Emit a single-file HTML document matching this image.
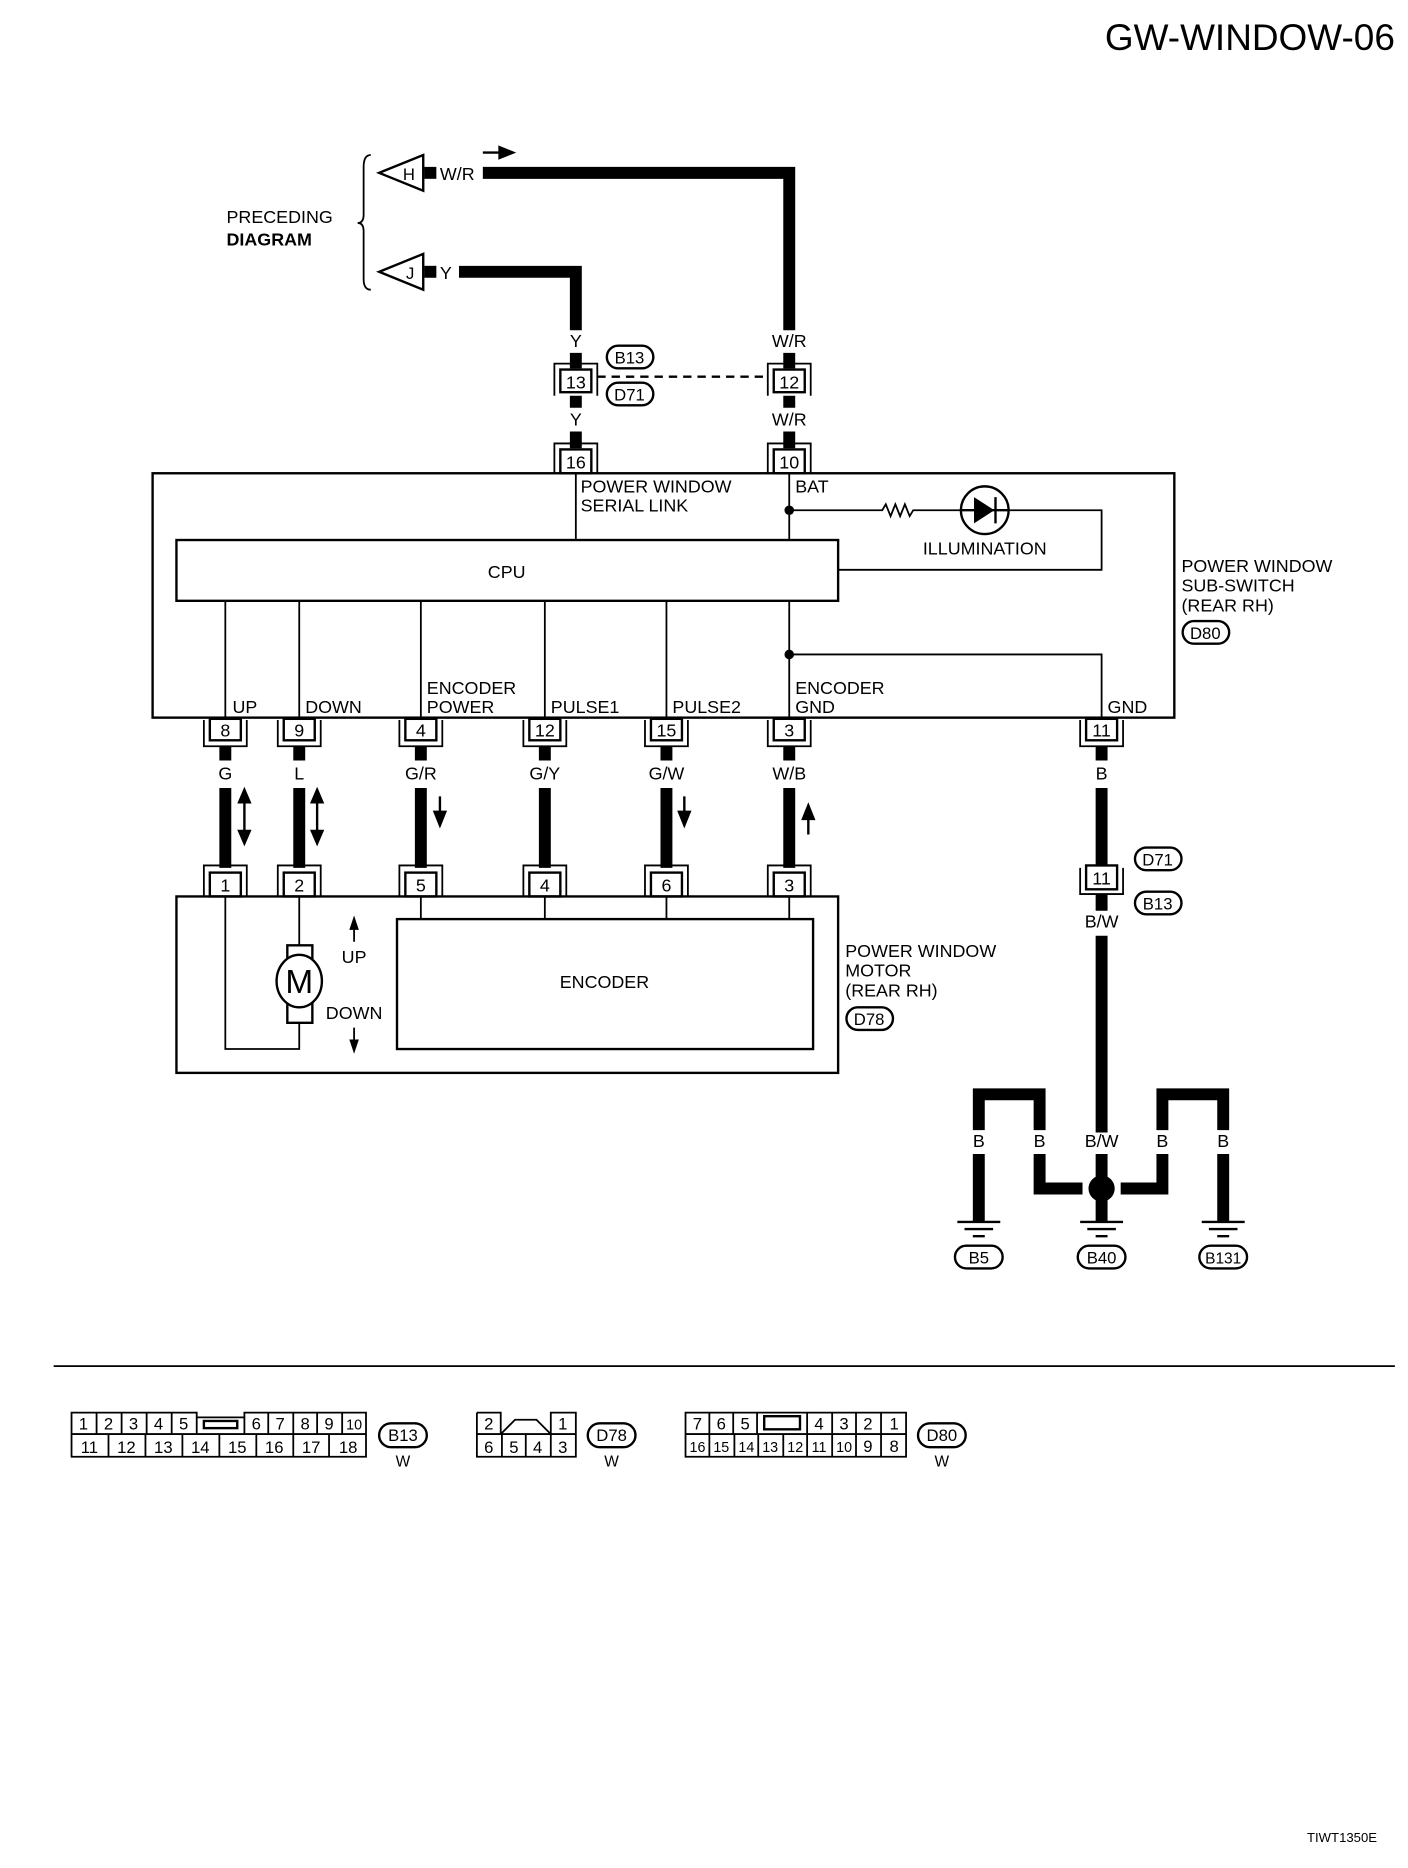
<!DOCTYPE html>
<html><head><meta charset="utf-8"><style>
html,body{margin:0;padding:0;background:#fff;}
svg{display:block;}
text{font-family:"Liberation Sans",sans-serif;fill:#000;}
</style></head><body>
<svg width="1408" height="1868" viewBox="0 0 1181 1567" preserveAspectRatio="none" xmlns="http://www.w3.org/2000/svg">
<g font-size="15">
<text x="1170" y="42" font-size="31" text-anchor="end">GW-WINDOW-06</text>

<!-- preceding diagram -->
<text x="190" y="187">PRECEDING</text>
<text x="190" y="206" font-weight="bold">DIAGRAM</text>
<path d="M311 130 Q305 130 305 140 V180 Q305 187 300 187 Q305 187 305 194 V234 Q305 243 311 243" fill="none" stroke="#000" stroke-width="1.5"/>
<polygon points="318,145 355,130 355,160" fill="#fff" stroke="#000" stroke-width="2"/>
<text x="343" y="151" text-anchor="middle" font-size="14">H</text>
<rect x="356" y="140" width="10" height="10"/>
<text x="369" y="151">W/R</text>
<polygon points="318,228 355,213 355,243" fill="#fff" stroke="#000" stroke-width="2"/>
<text x="344" y="234" text-anchor="middle" font-size="14">J</text>
<rect x="356" y="223" width="10" height="10"/>
<text x="369" y="234">Y</text>
<path d="M405 128 H420" stroke="#000" stroke-width="2"/>
<polygon points="418,122 433,128 418,134"/>
<path d="M405 145 H662 V277" fill="none" stroke="#000" stroke-width="10"/>
<path d="M385 228 H483 V277" fill="none" stroke="#000" stroke-width="10"/>

<text x="483" y="291" text-anchor="middle">Y</text>
<text x="662" y="291" text-anchor="middle">W/R</text>
<path d="M483 296 V309 M662 296 V309" stroke="#000" stroke-width="10"/>
<path d="M465 332 V305 H501 V332 M644 332 V305 H680 V332" fill="none" stroke="#000" stroke-width="1.5"/>
<rect x="470" y="310" width="26" height="19" fill="#fff" stroke="#000" stroke-width="2"/>
<rect x="649" y="310" width="26" height="19" fill="#fff" stroke="#000" stroke-width="2"/>
<text x="483" y="326" text-anchor="middle">13</text>
<text x="662" y="326" text-anchor="middle">12</text>
<path d="M501 316 H645" stroke="#000" stroke-width="2" stroke-dasharray="7,5"/>
<rect x="509" y="290" width="39" height="19" rx="9.5" fill="#fff" stroke="#000" stroke-width="2"/>
<text x="528" y="305" text-anchor="middle" font-size="14">B13</text>
<rect x="509" y="321" width="39" height="19" rx="9.5" fill="#fff" stroke="#000" stroke-width="2"/>
<text x="528" y="336" text-anchor="middle" font-size="14">D71</text>
<path d="M483 332 V342 M662 332 V342" stroke="#000" stroke-width="10"/>
<text x="483" y="357" text-anchor="middle">Y</text>
<text x="662" y="357" text-anchor="middle">W/R</text>
<path d="M483 362 V376 M662 362 V376" stroke="#000" stroke-width="10"/>
<path d="M465 397 V372 H501 V397 M644 397 V372 H680 V397" fill="none" stroke="#000" stroke-width="1.5"/>
<rect x="470" y="377" width="26" height="20" fill="#fff" stroke="#000" stroke-width="2"/>
<rect x="649" y="377" width="26" height="20" fill="#fff" stroke="#000" stroke-width="2"/>
<text x="483" y="393" text-anchor="middle">16</text>
<text x="662" y="393" text-anchor="middle">10</text>

<rect x="128" y="397" width="857" height="205" fill="none" stroke="#000" stroke-width="2"/>
<path d="M483 397 V453 M662 397 V453" stroke="#000" stroke-width="1.5"/>
<text x="487" y="413">POWER WINDOW</text>
<text x="487" y="429">SERIAL LINK</text>
<text x="667" y="413">BAT</text>
<circle cx="662" cy="428" r="4"/>
<path d="M662 428 H740 l3 -5 l4 10 l4 -10 l4 10 l4 -10 l4 10 l3 -5 H807 M845 428 H924 V478 H703" fill="none" stroke="#000" stroke-width="1.5"/>
<circle cx="826" cy="428" r="20" fill="#fff" stroke="#000" stroke-width="2"/>
<polygon points="817,417 817,439 834,428"/>
<path d="M835 417 V439 M806 428 H846" stroke="#000" stroke-width="2"/>
<text x="826" y="465" text-anchor="middle">ILLUMINATION</text>
<rect x="148" y="453" width="555" height="51" fill="#fff" stroke="#000" stroke-width="2"/>
<text x="425" y="485" text-anchor="middle">CPU</text>
<path d="M189 504 V602 M251 504 V602 M353 504 V602 M457 504 V602 M559 504 V602 M662 504 V602 M662 549 H924 V602" fill="none" stroke="#000" stroke-width="1.5"/>
<circle cx="662" cy="549" r="4"/>
<text x="195" y="598">UP</text>
<text x="256" y="598">DOWN</text>
<text x="358" y="582">ENCODER</text>
<text x="358" y="598">POWER</text>
<text x="462" y="598">PULSE1</text>
<text x="564" y="598">PULSE2</text>
<text x="667" y="582">ENCODER</text>
<text x="667" y="598">GND</text>
<text x="929" y="598">GND</text>
<text x="991" y="480">POWER WINDOW</text>
<text x="991" y="496">SUB-SWITCH</text>
<text x="991" y="513">(REAR RH)</text>
<rect x="992" y="521" width="39" height="19" rx="9.5" fill="#fff" stroke="#000" stroke-width="2"/>
<text x="1011" y="536" text-anchor="middle" font-size="14">D80</text>

<g fill="none" stroke="#000" stroke-width="1.5">
<path d="M171 604 V626 H207 V604 M233 604 V626 H269 V604 M335 604 V626 H371 V604 M439 604 V626 H475 V604 M541 604 V626 H577 V604 M644 604 V626 H680 V604 M906 604 V626 H942 V604"/>
</g>
<g fill="#fff" stroke="#000" stroke-width="2">
<rect x="176" y="603" width="26" height="18"/><rect x="238" y="603" width="26" height="18"/><rect x="340" y="603" width="26" height="18"/><rect x="444" y="603" width="26" height="18"/><rect x="546" y="603" width="26" height="18"/><rect x="649" y="603" width="26" height="18"/><rect x="911" y="603" width="26" height="18"/>
</g>
<g text-anchor="middle">
<text x="189" y="618">8</text><text x="251" y="618">9</text><text x="353" y="618">4</text><text x="457" y="618">12</text><text x="559" y="618">15</text><text x="662" y="618">3</text><text x="924" y="618">11</text>
<text x="189" y="654">G</text><text x="251" y="654">L</text><text x="353" y="654">G/R</text><text x="457" y="654">G/Y</text><text x="559" y="654">G/W</text><text x="662" y="654">W/B</text><text x="924" y="654">B</text>
</g>
<g stroke="#000" stroke-width="10">
<path d="M189 626 V638 M251 626 V638 M353 626 V638 M457 626 V638 M559 626 V638 M662 626 V638 M924 626 V638"/>
<path d="M189 661 V728 M251 661 V728 M353 661 V728 M457 661 V728 M559 661 V728 M662 661 V728 M924 661 V728"/>
</g>
<g stroke="#000" stroke-width="2">
<path d="M205 672 V698 M266 672 V698 M369 668 V684 M574 668 V684 M678 682 V700"/>
</g>
<polygon points="199,674 205,660 211,674"/><polygon points="199,696 205,710 211,696"/>
<polygon points="260,674 266,660 272,674"/><polygon points="260,696 266,710 272,696"/>
<polygon points="363,680 369,695 375,680"/><polygon points="568,680 574,695 580,680"/>
<polygon points="672,688 678,673 684,688"/>

<g fill="none" stroke="#000" stroke-width="1.5">
<path d="M171 752 V726 H207 V752 M233 752 V726 H269 V752 M335 752 V726 H371 V752 M439 752 V726 H475 V752 M541 752 V726 H577 V752 M644 752 V726 H680 V752"/>
</g>
<g fill="#fff" stroke="#000" stroke-width="2">
<rect x="176" y="732" width="26" height="20"/><rect x="238" y="732" width="26" height="20"/><rect x="340" y="732" width="26" height="20"/><rect x="444" y="732" width="26" height="20"/><rect x="546" y="732" width="26" height="20"/><rect x="649" y="732" width="26" height="20"/>
</g>
<g text-anchor="middle">
<text x="189" y="748">1</text><text x="251" y="748">2</text><text x="353" y="748">5</text><text x="457" y="748">4</text><text x="559" y="748">6</text><text x="662" y="748">3</text>
</g>
<rect x="148" y="752" width="555" height="148" fill="none" stroke="#000" stroke-width="2"/>
<path d="M189 752 V880 H251 V858 M251 752 V793 M353 752 V771 M457 752 V771 M559 752 V771 M662 752 V771" fill="none" stroke="#000" stroke-width="1.5"/>
<rect x="241" y="793" width="21" height="65" fill="#fff" stroke="#000" stroke-width="2"/>
<ellipse cx="251" cy="823" rx="19" ry="22" fill="#fff" stroke="#000" stroke-width="2"/>
<text x="251" y="833" text-anchor="middle" font-size="28">M</text>
<path d="M297 778 V790 M297 862 V874" stroke="#000" stroke-width="1.5"/>
<polygon points="293,780 297,768 301,780"/><polygon points="293,872 297,884 301,872"/>
<text x="297" y="808" text-anchor="middle">UP</text>
<text x="297" y="855" text-anchor="middle">DOWN</text>
<rect x="333" y="771" width="349" height="109" fill="none" stroke="#000" stroke-width="2"/>
<text x="507" y="829" text-anchor="middle">ENCODER</text>
<text x="709" y="803">POWER WINDOW</text>
<text x="709" y="819">MOTOR</text>
<text x="709" y="836">(REAR RH)</text>
<rect x="710" y="845" width="39" height="19" rx="9.5" fill="#fff" stroke="#000" stroke-width="2"/>
<text x="729" y="860" text-anchor="middle" font-size="14">D78</text>

<path d="M906 728 V750 H942 V728" fill="none" stroke="#000" stroke-width="1.5"/>
<rect x="911" y="726" width="26" height="20" fill="#fff" stroke="#000" stroke-width="2"/>
<text x="924" y="742" text-anchor="middle">11</text>
<rect x="952" y="711" width="39" height="19" rx="9.5" fill="#fff" stroke="#000" stroke-width="2"/>
<text x="971" y="726" text-anchor="middle" font-size="14">D71</text>
<rect x="952" y="748" width="39" height="19" rx="9.5" fill="#fff" stroke="#000" stroke-width="2"/>
<text x="971" y="763" text-anchor="middle" font-size="14">B13</text>
<path d="M924 750 V764 M924 785 V950" stroke="#000" stroke-width="10"/>
<text x="924" y="778" text-anchor="middle">B/W</text>

<g fill="none" stroke="#000" stroke-width="10">
<path d="M821 948 V918 H872 V948 M975 948 V918 H1026 V948"/>
<path d="M821 968 V1025 M1026 968 V1025 M924 968 V990 M924 1005 V1025"/>
<path d="M872 968 V997 H908 M940 997 H975 V968"/>
</g>
<circle cx="924" cy="997" r="11"/>
<g text-anchor="middle">
<text x="821" y="962">B</text><text x="872" y="962">B</text><text x="924" y="962">B/W</text><text x="975" y="962">B</text><text x="1026" y="962">B</text>
</g>
<g stroke="#000" stroke-width="2">
<path d="M803 1025 H839 M809 1031 H833 M816 1037 H826"/>
<path d="M906 1025 H942 M912 1031 H936 M919 1037 H929"/>
<path d="M1008 1025 H1044 M1014 1031 H1038 M1021 1037 H1031"/>
</g>
<rect x="801" y="1045" width="40" height="19" rx="9.5" fill="#fff" stroke="#000" stroke-width="2"/>
<text x="821" y="1060" text-anchor="middle" font-size="14">B5</text>
<rect x="904" y="1045" width="40" height="19" rx="9.5" fill="#fff" stroke="#000" stroke-width="2"/>
<text x="924" y="1060" text-anchor="middle" font-size="14">B40</text>
<rect x="1006" y="1045" width="40" height="19" rx="9.5" fill="#fff" stroke="#000" stroke-width="2"/>
<text x="1026" y="1060" text-anchor="middle" font-size="13">B131</text>

<path d="M45 1146 H1170" stroke="#000" stroke-width="1.5"/>

<g fill="none" stroke="#000" stroke-width="1.5">
<path d="M60 1185 H165 V1189 H205 V1185 H307 V1222 H60 Z M60 1203 H307"/>
<path d="M81 1185 V1203 M102 1185 V1203 M123 1185 V1203 M144 1185 V1203 M165 1189 V1203 M205 1189 V1203 M225 1185 V1203 M246 1185 V1203 M266 1185 V1203 M287 1185 V1203"/>
<path d="M91 1203 V1222 M122 1203 V1222 M153 1203 V1222 M184 1203 V1222 M215 1203 V1222 M246 1203 V1222 M276 1203 V1222"/>
<rect x="171" y="1192" width="28" height="6" stroke-width="2"/>
<path d="M400 1185 H420 V1203 M462 1203 V1185 H483 V1222 H400 V1185 M400 1203 H483 M420 1203 L432 1191 H450 L462 1203"/>
<path d="M421 1203 V1222 M441 1203 V1222 M462 1203 V1222"/>
<path d="M575 1185 H760 V1222 H575 Z M575 1203 H760"/>
<path d="M595 1185 V1203 M615 1185 V1203 M635 1185 V1203 M677 1185 V1203 M698 1185 V1203 M718 1185 V1203 M739 1185 V1203"/>
<path d="M595 1203 V1222 M616 1203 V1222 M636 1203 V1222 M657 1203 V1222 M677 1203 V1222 M698 1203 V1222 M718 1203 V1222 M739 1203 V1222"/>
<rect x="641" y="1188" width="30" height="11" stroke-width="2"/>
</g>
<g font-size="14" text-anchor="middle">
<text x="70" y="1199">1</text><text x="91" y="1199">2</text><text x="112" y="1199">3</text><text x="133" y="1199">4</text><text x="154" y="1199">5</text><text x="215" y="1199">6</text><text x="235" y="1199">7</text><text x="256" y="1199">8</text><text x="276" y="1199">9</text><text x="297" y="1199" font-size="12">10</text>
<text x="75" y="1219">11</text><text x="106" y="1219">12</text><text x="137" y="1219">13</text><text x="168" y="1219">14</text><text x="199" y="1219">15</text><text x="230" y="1219">16</text><text x="261" y="1219">17</text><text x="292" y="1219">18</text>
<text x="410" y="1199">2</text><text x="472" y="1199">1</text>
<text x="410" y="1219">6</text><text x="431" y="1219">5</text><text x="451" y="1219">4</text><text x="472" y="1219">3</text>
<text x="585" y="1199">7</text><text x="605" y="1199">6</text><text x="625" y="1199">5</text><text x="687" y="1199">4</text><text x="708" y="1199">3</text><text x="728" y="1199">2</text><text x="750" y="1199">1</text>
</g>
<g font-size="12" text-anchor="middle">
<text x="585" y="1218">16</text><text x="605" y="1218">15</text><text x="626" y="1218">14</text><text x="646" y="1218">13</text><text x="667" y="1218">12</text><text x="687" y="1218">11</text><text x="708" y="1218">10</text><text x="728" y="1218" font-size="14">9</text><text x="750" y="1218" font-size="14">8</text>
</g>
<rect x="318" y="1194" width="40" height="20" rx="10" fill="#fff" stroke="#000" stroke-width="2"/>
<text x="338" y="1209" text-anchor="middle" font-size="14">B13</text>
<text x="338" y="1230" text-anchor="middle" font-size="13">W</text>
<rect x="493" y="1194" width="40" height="20" rx="10" fill="#fff" stroke="#000" stroke-width="2"/>
<text x="513" y="1209" text-anchor="middle" font-size="14">D78</text>
<text x="513" y="1230" text-anchor="middle" font-size="13">W</text>
<rect x="770" y="1194" width="40" height="20" rx="10" fill="#fff" stroke="#000" stroke-width="2"/>
<text x="790" y="1209" text-anchor="middle" font-size="14">D80</text>
<text x="790" y="1230" text-anchor="middle" font-size="13">W</text>

<text x="1155" y="1545" text-anchor="end" font-size="11">TIWT1350E</text>
</g>
</svg>
</body></html>
